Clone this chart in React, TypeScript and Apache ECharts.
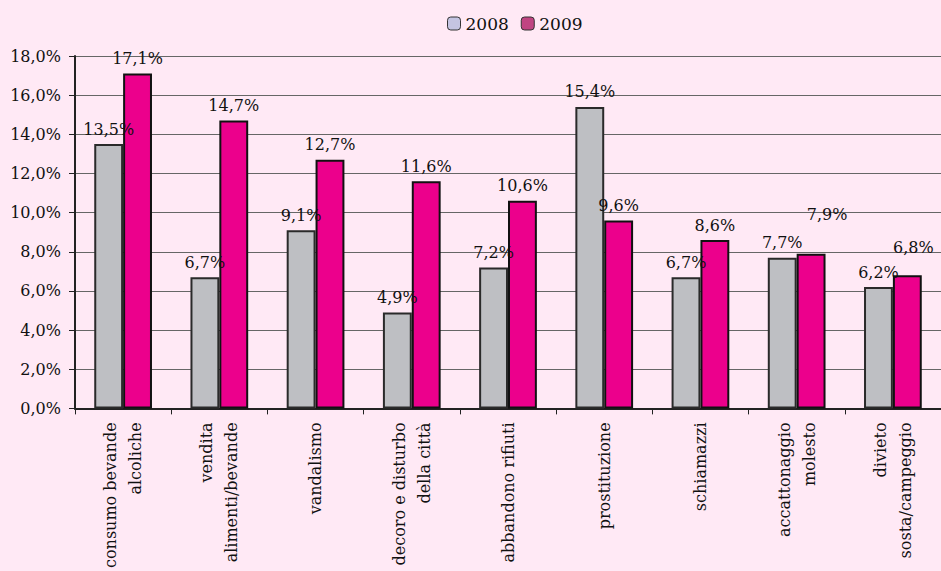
import React, { useEffect, useRef } from "react";
import * as echarts from "echarts";

const categories = [
  "consumo bevande\nalcoliche",
  "vendita\nalimenti/bevande",
  "vandalismo",
  "decoro e disturbo\ndella città",
  "abbandono rifiuti",
  "prostituzione",
  "schiamazzi",
  "accattonaggio\nmolesto",
  "divieto\nsosta/campeggio",
];
const values2008 = [13.5, 6.7, 9.1, 4.9, 7.2, 15.4, 6.7, 7.7, 6.2];
const values2009 = [17.1, 14.7, 12.7, 11.6, 10.6, 9.6, 8.6, 7.9, 6.8];
const seriesNames = ["2008", "2009"];

// hand-nudged value labels of the 2009 series (index -> [dx, dy])
const labelNudge2009: Record<number, [number, number]> = {
  7: [16, -24],
  8: [6, -13],
};

const FONT = "'DejaVu Serif', serif";
const pct = (v: number) => v.toFixed(1).replace(".", ",") + "%";

export default function App() {
  const ref = useRef<HTMLDivElement>(null);
  useEffect(() => {
    document.body.style.margin = "0";
    if (!ref.current) return;
    const chart = echarts.init(ref.current, null, { renderer: "svg" });
    const label = {
      show: true,
      position: "top" as const,
      distance: 7,
      color: "#111",
      fontFamily: FONT,
      fontSize: 16,
      formatter: (p: any) => pct(p.value),
    };
    chart.setOption({
      animation: false,
      backgroundColor: "#FFE9F5",
      textStyle: { fontFamily: FONT },
      legend: {
        top: 10,
        left: 442,
        itemWidth: 13,
        itemHeight: 13,
        itemGap: 12,
        textStyle: { fontFamily: FONT, fontSize: 17, color: "#111" },
        data: [
          { name: seriesNames[0], itemStyle: { color: "#C4C4E2", borderColor: "#333", borderWidth: 1 } },
          { name: seriesNames[1], itemStyle: { color: "#C04482", borderColor: "#333", borderWidth: 1 } },
        ],
      },
      grid: { left: 75, right: 0, top: 56, bottom: 161, containLabel: false },
      xAxis: {
        type: "category",
        data: categories,
        axisLine: { lineStyle: { color: "#222", width: 2 } },
        axisTick: { show: true, length: 6, lineStyle: { color: "#222" } },
        axisLabel: {
          rotate: 90,
          interval: 0,
          margin: 14,
          color: "#111",
          fontFamily: FONT,
          fontSize: 16,
          lineHeight: 25,
        },
      },
      yAxis: {
        type: "value",
        min: 0,
        max: 18,
        interval: 2,
        axisLine: { show: true, lineStyle: { color: "#222", width: 2 } },
        axisTick: { show: true, length: 6, lineStyle: { color: "#222" } },
        splitLine: { lineStyle: { color: "#666", width: 1 } },
        axisLabel: {
          margin: 14,
          color: "#111",
          fontFamily: FONT,
          fontSize: 16,
          formatter: (v: number) => pct(v),
        },
      },
      series: [
        {
          name: seriesNames[0],
          type: "bar",
          data: values2008,
          barGap: "0%",
          barCategoryGap: "40%",
          itemStyle: { color: "#BEBFC3", borderColor: "#2A2A2A", borderWidth: 2 },
          label,
        },
        {
          name: seriesNames[1],
          type: "bar",
          data: values2009.map((v, i) =>
            labelNudge2009[i] ? { value: v, label: { offset: labelNudge2009[i] } } : v
          ),
          itemStyle: { color: "#EC008C", borderColor: "#111", borderWidth: 2 },
          label,
        },
      ],
    });
    return () => chart.dispose();
  }, []);
  return <div ref={ref} style={{ width: 941, height: 571 }} />;
}
